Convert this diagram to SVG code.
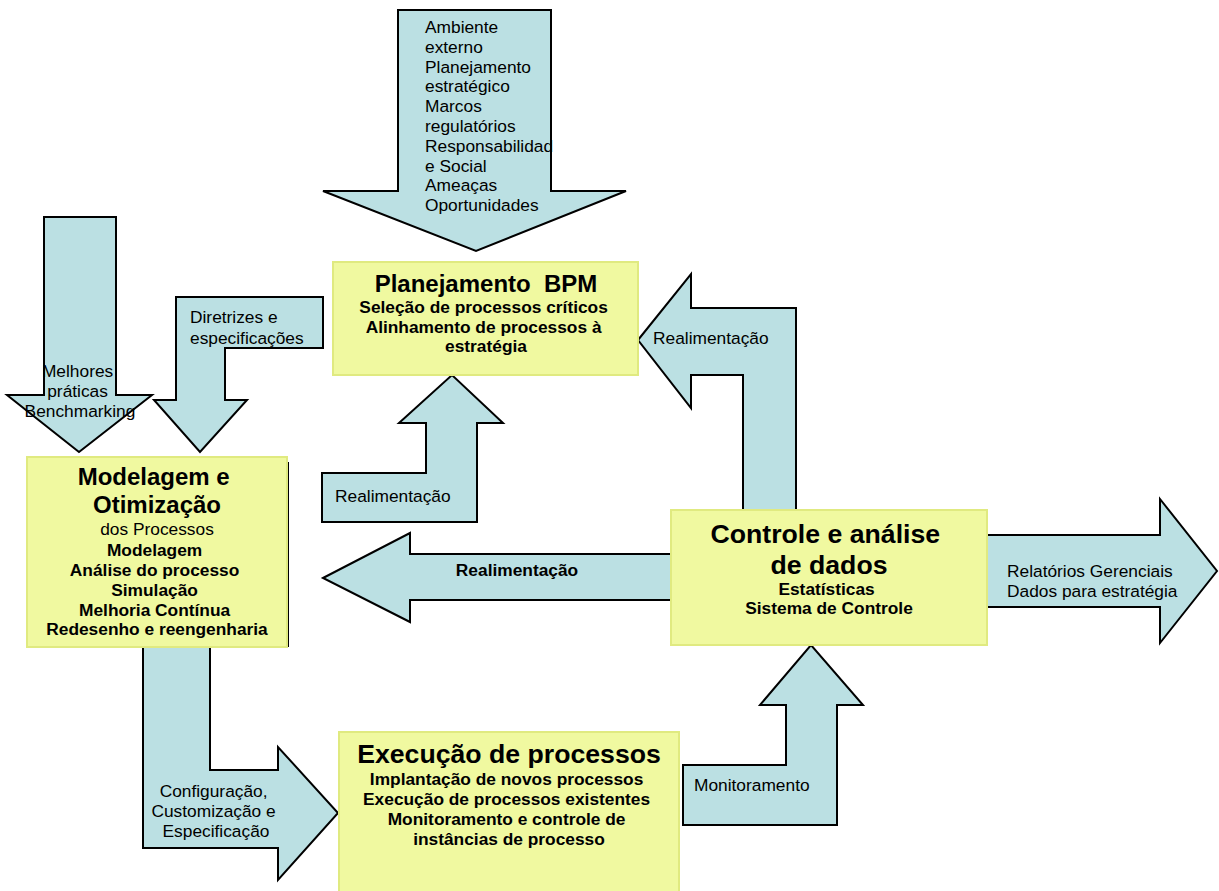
<svg xmlns="http://www.w3.org/2000/svg" width="1219" height="891" viewBox="0 0 1219 891">
<style>
  text { font-family: "Liberation Sans", Arial, sans-serif; fill: #000; }
  .arrow { fill: #bbe0e3; stroke: #000; stroke-width: 2; stroke-linejoin: miter; }
  .box { fill: #f0f9a0; stroke: #e0ea80; stroke-width: 2; }
  .lbl { font-size: 17.33px; }
  .lblb { font-size: 17.33px; font-weight: bold; }
  .t24 { font-size: 24px; font-weight: bold; }
  .t27 { font-size: 26.67px; font-weight: bold; }
  .mid { text-anchor: middle; }
</style>
<rect width="1219" height="891" fill="#fff"/>
<g id="connectors">
  <g id="arrow-ambiente">
    <path class="arrow" d="M398,10 L551,10 L551,191 L626,191 L476,251 L323,191 L398,191 Z"/>
    <text class="lbl" x="425">
      <tspan x="425" y="33">Ambiente</tspan>
      <tspan x="425" y="53">externo</tspan>
      <tspan x="425" y="73">Planejamento</tspan>
      <tspan x="425" y="92">estratégico</tspan>
      <tspan x="425" y="112">Marcos</tspan>
      <tspan x="425" y="132">regulatórios</tspan>
      <tspan x="425" y="152">Responsabilidad</tspan>
      <tspan x="425" y="172">e Social</tspan>
      <tspan x="425" y="191">Ameaças</tspan>
      <tspan x="425" y="211">Oportunidades</tspan>
    </text>
  </g>
  <g id="arrow-melhores">
    <path class="arrow" d="M44,217 L116,217 L116,395 L152,395 L79,452 L7,395 L44,395 Z"/>
    <text class="lbl mid">
      <tspan x="80" y="377">Melhores</tspan>
      <tspan x="80" y="397">práticas</tspan>
      <tspan x="80" y="417">Benchmarking</tspan>
    </text>
  </g>
  <g id="arrow-diretrizes">
    <path class="arrow" d="M176,297 L323,297 L323,348 L225,348 L225,400 L247,400 L200,452 L154,400 L176,400 Z"/>
    <text class="lbl">
      <tspan x="190" y="323">Diretrizes e</tspan>
      <tspan x="190" y="344">especificações</tspan>
    </text>
  </g>
  <g id="arrow-realim-up">
    <path class="arrow" d="M322,473 L426,473 L426,423 L399,423 L452,375 L503,423 L477,423 L477,522 L322,522 Z"/>
    <text class="lbl" x="335" y="502">Realimentação</text>
  </g>
  <g id="arrow-realim-right">
    <path class="arrow" d="M638,340 L691,274 L691,308 L796,308 L796,510 L743,510 L743,375 L691,375 L691,408 Z"/>
    <text class="lbl" x="653" y="344">Realimentação</text>
  </g>
  <g id="arrow-realim-mid">
    <path class="arrow" d="M323,578 L410,533 L410,554 L672,554 L672,600 L410,600 L410,622 Z"/>
    <text class="lblb mid" x="517" y="576">Realimentação</text>
  </g>
  <g id="arrow-relatorios">
    <path class="arrow" d="M987,535 L1160,535 L1160,499 L1217,571 L1160,643 L1160,607 L987,607 Z"/>
    <text class="lbl">
      <tspan x="1007" y="577">Relatórios Gerenciais</tspan>
      <tspan x="1007" y="597">Dados para estratégia</tspan>
    </text>
  </g>
  <g id="arrow-configuracao">
    <path class="arrow" d="M143,647 L210,647 L210,770 L278,770 L278,747 L338,813 L278,880 L278,848 L143,848 Z"/>
    <text class="lbl mid">
      <tspan x="216" y="797">Configuração,</tspan>
      <tspan x="216" y="817">Customização e</tspan>
      <tspan x="216" y="837">Especificação</tspan>
    </text>
  </g>
  <g id="arrow-monitoramento">
    <path class="arrow" d="M683,765 L786,765 L786,705 L760,705 L811,645 L863,705 L837,705 L837,825 L683,825 Z"/>
    <text class="lbl" x="694" y="791">Monitoramento</text>
  </g>
</g>
<g id="node-planejamento">
  <rect class="box" x="333" y="262" width="305" height="113"/>
  <text class="t24 mid" x="486" y="292">Planejamento&#160; BPM</text>
  <text class="lblb mid">
    <tspan x="486" y="313">Seleção de processos críticos</tspan>
    <tspan x="486" y="333">Alinhamento de processos à</tspan>
    <tspan x="486" y="352">estratégia</tspan>
  </text>
</g>
<g id="node-modelagem">
  <line x1="288" y1="462" x2="288" y2="647" stroke="#000" stroke-width="2"/>
  <rect class="box" x="27" y="457" width="260" height="190"/>
  <text class="t24 mid">
    <tspan x="157" y="485">Modelagem e</tspan>
    <tspan x="157" y="513">Otimização</tspan>
  </text>
  <text class="lbl mid" x="157" y="535">dos Processos</text>
  <text class="lblb mid">
    <tspan x="157" y="556">Modelagem</tspan>
    <tspan x="157" y="576">Análise do processo</tspan>
    <tspan x="157" y="596">Simulação</tspan>
    <tspan x="157" y="616">Melhoria Contínua</tspan>
    <tspan x="157" y="635">Redesenho e reengenharia</tspan>
  </text>
</g>
<g id="node-controle">
  <rect class="box" x="671" y="510" width="316" height="135"/>
  <text class="t27 mid">
    <tspan x="829" y="543">Controle e análise</tspan>
    <tspan x="829" y="574">de dados</tspan>
  </text>
  <text class="lblb mid">
    <tspan x="829" y="595">Estatísticas</tspan>
    <tspan x="829" y="614">Sistema de Controle</tspan>
  </text>
</g>
<g id="node-execucao">
  <rect class="box" x="339" y="732" width="340" height="165"/>
  <text class="t27 mid" x="509" y="763">Execução de processos</text>
  <text class="lblb mid">
    <tspan x="509" y="785">Implantação de novos processos</tspan>
    <tspan x="509" y="805">Execução de processos existentes</tspan>
    <tspan x="509" y="825">Monitoramento e controle de</tspan>
    <tspan x="509" y="845">instâncias de processo</tspan>
  </text>
</g>
</svg>
